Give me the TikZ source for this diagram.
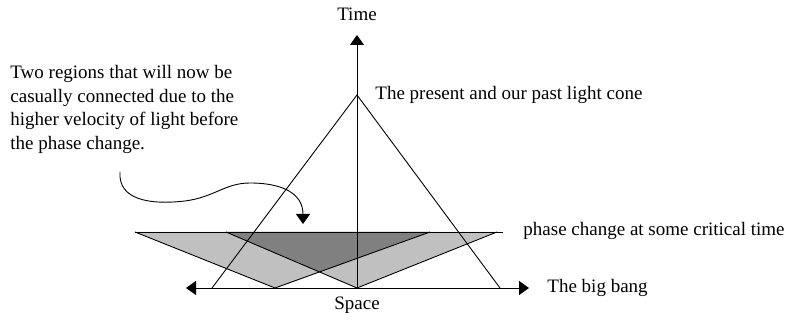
\documentclass[tikz,border=0pt]{standalone}
\usepackage{fontspec}
\setmainfont{Liberation Serif}
\usetikzlibrary{arrows.meta}
\definecolor{lightfill}{RGB}{192,192,192}
\definecolor{darkfill}{RGB}{128,128,128}
\begin{document}
\begin{tikzpicture}[x=1pt,y=-1pt,
  lbl/.style={inner sep=0pt,font=\fontsize{19}{23}\selectfont},
  edge/.style={draw=black,line width=0.9pt},
  tip/.style={-{Triangle[width=14pt,length=10pt]}},
  line width=0.9pt]
\useasboundingbox (0,0) rectangle (804,320);
% named points
\coordinate (O) at (357,288);
\coordinate (T) at (357,35);
\coordinate (AxL) at (186,288);
\coordinate (AxR) at (529,288);
\coordinate (Apex) at (357,95);
\coordinate (ConeL) at (212,288);
\coordinate (ConeR) at (500,288);
\coordinate (PL) at (135,232);
\coordinate (PR) at (503,232);
\coordinate (A1) at (135,232);
\coordinate (A2) at (430,232);
\coordinate (A3) at (275,288);
\coordinate (B1) at (226,232);
\coordinate (B2) at (497,232);
\coordinate (B3) at (357,288);
% fills
\fill[lightfill] (A1) -- (A2) -- (A3) -- cycle;
\fill[lightfill] (B1) -- (B2) -- (B3) -- cycle;
\begin{scope}
  \clip (A1) -- (A2) -- (A3) -- cycle;
  \fill[darkfill] (B1) -- (B2) -- (B3) -- cycle;
\end{scope}
% triangle edges
\draw (A1) -- (A3) -- (A2);
\draw (B1) -- (B3) -- (B2);
% phase line
\draw (PL) -- (PR);
% axes
\draw[tip] (O) -- (T);
\draw[{Triangle[width=14pt,length=10pt]}-{Triangle[width=14pt,length=10pt]}] (AxL) -- (AxR);
% light cone
\draw (ConeL) -- (Apex) -- (ConeR);
% curved arrow
\coordinate (C0) at (120,172);
\coordinate (C1) at (185,201);
\coordinate (C2) at (250,183);
\coordinate (C3) at (303,224);
\draw[tip] (C0) .. controls (118,200) and (150,205) .. (C1)
  .. controls (215,197) and (225,183) .. (C2)
  .. controls (285,183) and (303,195) .. (C3);
% labels
\node[lbl,anchor=base] (time) at (357,21) {Time};
\node[lbl,anchor=base west] (present) at (375,100) {The present and our past light cone};
\node[lbl,anchor=base west] (phase) at (523,236) {phase change at some critical time};
\node[lbl,anchor=base west] (bang) at (547,293) {The big bang};
\node[lbl,anchor=base] (space) at (357,310) {Space};
\node[lbl,anchor=base west] (t1) at (10,79) {Two regions that will now be};
\node[lbl,anchor=base west] (t2) at (10,103) {casually connected due to the};
\node[lbl,anchor=base west] (t3) at (10,126) {higher velocity of light before};
\node[lbl,anchor=base west] (t4) at (10,150) {the phase change.};
\end{tikzpicture}
\end{document}
